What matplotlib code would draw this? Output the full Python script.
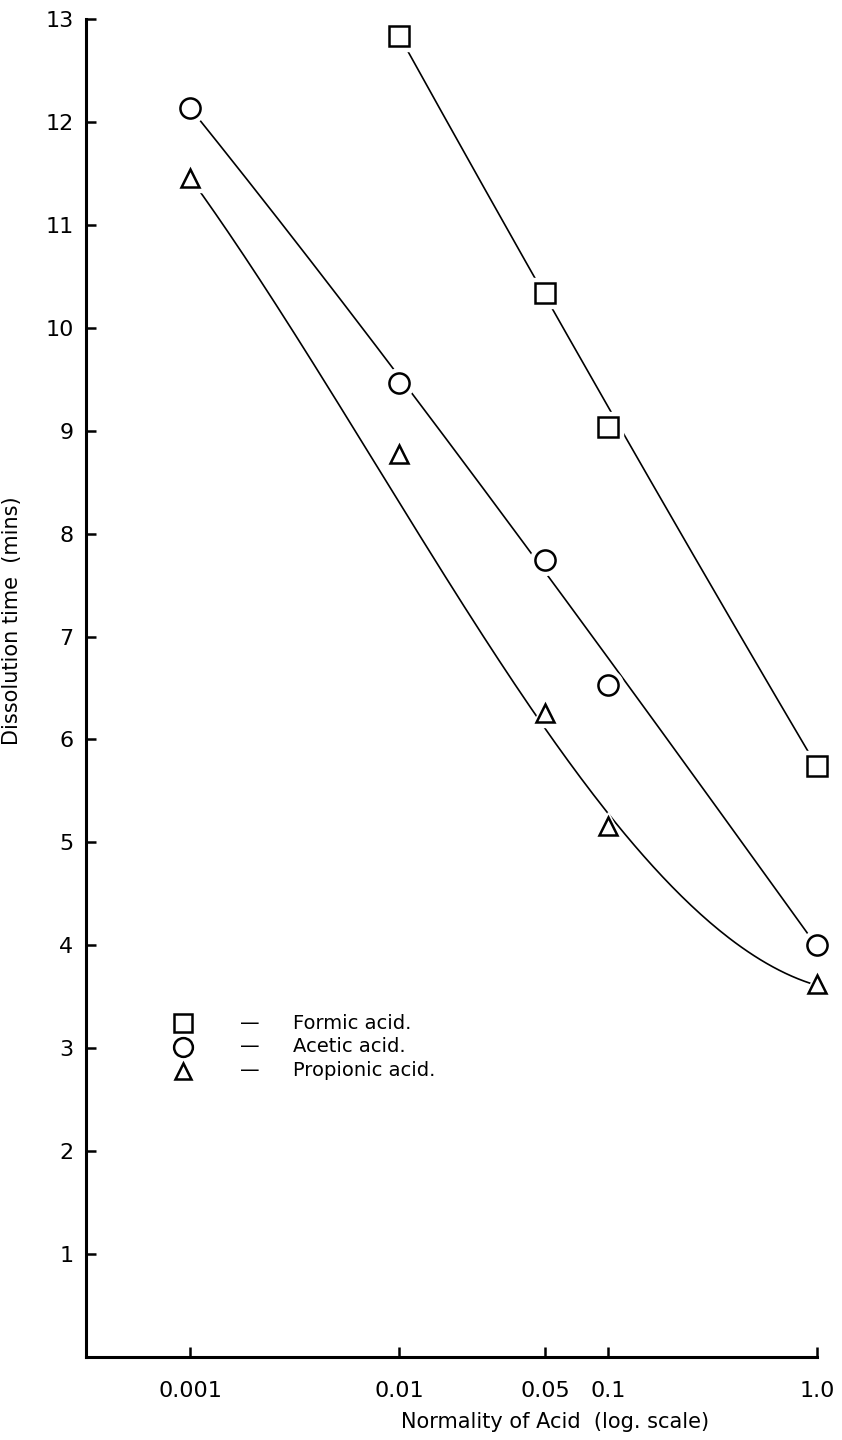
import numpy as np
import matplotlib
matplotlib.use('Agg')
import matplotlib.pyplot as plt

# Data (normality of acid vs dissolution time, mins)
formic_n = [0.01, 0.05, 0.1, 1.0]
formic_t = [12.83, 10.34, 9.04, 5.74]

acetic_n = [0.001, 0.01, 0.05, 0.1, 1.0]
acetic_t = [12.14, 9.46, 7.74, 6.53, 4.00]

propionic_n = [0.001, 0.01, 0.05, 0.1, 1.0]
propionic_t = [11.46, 8.77, 6.26, 5.16, 3.62]

# hand-drawn trend line values read at the same normalities
formic_curve = [12.83, 10.34, 9.2, 5.74]
acetic_curve = [12.14, 9.46, 7.82, 6.64, 4.00]
propionic_curve = [11.46, 8.25, 6.26, 5.16, 3.62]

xtick_vals = [0.001, 0.01, 0.05, 0.1, 1.0]
xtick_labels = ['0.001', '0.01', '0.05', '0.1', '1.0']
ytick_vals = list(range(1, 14))

labels = ['Formic acid.', 'Acetic acid.', 'Propionic acid.']

plt.rcParams['font.family'] = ['DejaVu Sans']

fig = plt.figure(figsize=(8.42, 14.4), dpi=100)
ax = fig.add_axes([86/842, 83/1440, 731/842, 1338/1440])


def smooth_curve(n, t, deg):
    lx = np.log10(n)
    coef = np.polyfit(lx, t, deg)
    xs = np.linspace(lx[0], lx[-1], 200)
    return 10**xs, np.polyval(coef, xs)


series = [
    (formic_n, formic_t, formic_curve, 's', 14, 2),
    (acetic_n, acetic_t, acetic_curve, 'o', 14.5, 3),
    (propionic_n, propionic_t, propionic_curve, '^', 13, 3),
]

for n, t, c, mk, ms, deg in series:
    cx, cy = smooth_curve(n, c, deg)
    ax.plot(cx, cy, color='black', lw=1.2, zorder=2)
    # white halo so the line stops short of the marker
    ax.plot(n, t, linestyle='none', marker=mk, ms=ms + 7, mfc='white',
            mec='white', zorder=3, clip_on=False)
    ax.plot(n, t, linestyle='none', marker=mk, ms=ms, mfc='white',
            mec='black', mew=1.8, zorder=4, clip_on=False)

ax.set_xscale('log')
ax.set_xlim(10**-3.5, 1.0)
ax.set_ylim(0, 13)

ax.set_xticks(xtick_vals)
ax.set_xticklabels(xtick_labels)
ax.xaxis.set_minor_locator(matplotlib.ticker.NullLocator())
ax.set_yticks(ytick_vals)
ax.set_yticklabels([str(v) for v in ytick_vals])

ax.tick_params(axis='both', direction='in', length=7, width=1.8,
               labelsize=16)
ax.tick_params(axis='x', pad=17)
ax.tick_params(axis='y', pad=9)

for side in ['top', 'right']:
    ax.spines[side].set_visible(False)
for side in ['left', 'bottom']:
    ax.spines[side].set_linewidth(2.2)

ax.set_xlabel('Normality of Acid  (log. scale)', fontsize=15)
ax.xaxis.set_label_coords(0.642, -0.041)
ax.set_ylabel('Dissolution time  (mins)', fontsize=15)
ax.yaxis.set_label_coords(-0.088, 0.55)

# legend drawn by hand: marker, dash, label
leg_y = [0.2496, 0.2317, 0.2138]
leg_mk = ['s', 'o', '^']
leg_ms = [13, 13.5, 12]
for y, mk, ms, lab in zip(leg_y, leg_mk, leg_ms, labels):
    ax.plot([0.1327], [y], transform=ax.transAxes, marker=mk, ms=ms,
            mfc='white', mec='black', mew=1.8, linestyle='none')
    ax.text(0.224, y, '\u2014', transform=ax.transAxes, fontsize=14,
            ha='center', va='center')
    ax.text(0.283, y, lab, transform=ax.transAxes, fontsize=14,
            ha='left', va='center')

fig.savefig('out.png', dpi=100)
